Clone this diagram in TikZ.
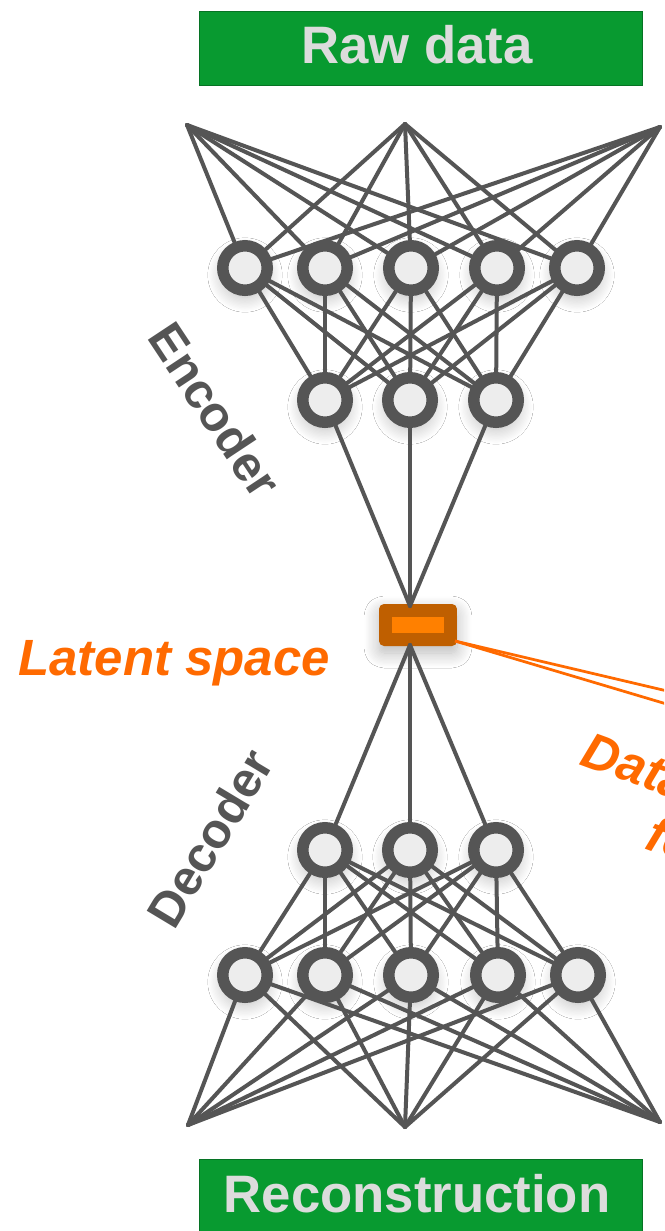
\documentclass[tikz,border=0pt]{standalone}
\usepackage{fontspec}
\setmainfont{Liberation Sans}
\usetikzlibrary{shadows.blur}

\definecolor{netgray}{HTML}{555555}
\definecolor{bannergreen}{HTML}{089A30}
\definecolor{bannertext}{HTML}{DCDCDC}
\definecolor{latentdark}{HTML}{BF5F00}
\definecolor{latentlight}{HTML}{FF8000}
\definecolor{latentorange}{HTML}{FF6A00}

\tikzset{
	softshadow/.style={blur shadow={shadow xshift=0pt, shadow yshift=-0.14cm,
			shadow blur radius=0.3cm, shadow blur steps=12, shadow opacity=28}},
	neuron/.style={circle, draw=netgray, line width=0.23cm, fill=gray!14,
		minimum size=0.89cm, inner sep=0pt, softshadow},
	link/.style={draw=netgray, line width=0.08cm, line cap=round},
	featurelink/.style={draw=latentorange, line width=0.055cm},
	banner/.style={fill=bannergreen, draw=bannergreen!75!black, line width=0.5pt},
	bannerlabel/.style={text=bannertext, anchor=base,
		font=\bfseries\fontsize{30}{36}\selectfont},
	partlabel/.style={text=netgray, font=\bfseries\fontsize{28}{34}\selectfont},
	latentlabel/.style={text=latentorange, font=\bfseries\itshape\fontsize{29}{35}\selectfont},
}

\begin{document}
\begin{tikzpicture}[x=0.02cm, y=-0.02cm]
		\useasboundingbox (0,0) rectangle (664,1231);
		\clip (0,0) rectangle (664,1231);
		\fill[white] (0,0) rectangle (664,1231);
		
		% Banners
		\fill[banner] (199,11) rectangle (642,85);
		\node[bannerlabel] (raw) at (417,63) {Raw data};
		\fill[banner] (199,1159) rectangle (642,1260);
		\node[bannerlabel] (recon) at (417,1212) {Reconstruction};
		
		% Input and output points
		\foreach \i/\x/\y in {1/187/125, 2/405/124, 3/660/127}
			\coordinate (in\i) at (\x,\y);
		\foreach \i/\x/\y in {1/188/1125, 2/405/1127, 3/660/1122}
			\coordinate (out\i) at (\x,\y);
		
		% Encoder layers
		\foreach \i/\x in {1/245, 2/325, 3/411, 4/497, 5/577}
			\node[neuron] (ea\i) at (\x,268) {};
		\foreach \i/\x in {1/325, 2/410, 3/496}
			\node[neuron] (eb\i) at (\x,400) {};
		
		% Decoder layers
		\foreach \i/\x in {1/325, 2/410, 3/496}
			\node[neuron] (da\i) at (\x,850) {};
		\foreach \i/\x in {1/245, 2/325, 3/411, 4/498, 5/578}
			\node[neuron] (db\i) at (\x,975) {};
		
		% Latent space box
		\node[fill=latentdark, rounded corners=0.1cm, minimum width=1.56cm,
			minimum height=0.84cm, inner sep=0pt, softshadow] (latent) at (418,625) {};
		\node[fill=latentlight, minimum width=1.04cm, minimum height=0.32cm,
			inner sep=0pt] (latentcore) at (418,625) {};
		\coordinate (zin) at (410,606);
		\coordinate (zout) at (410,645);
		\coordinate (zside) at (455,641);
		\coordinate (fa) at (680,694);
		\coordinate (fb) at (680,708);
		
		% Connections
		\foreach \i in {1,...,3}
			\foreach \j in {1,...,5}
				\draw[link] (in\i) -- (ea\j);
		\foreach \i in {1,...,5}
			\foreach \j in {1,...,3}
				\draw[link] (ea\i) -- (eb\j);
		\foreach \i in {1,...,3} {
			\draw[link] (eb\i) -- (zin);
			\draw[link] (zout) -- (da\i);
		}
		\foreach \i in {1,...,3}
			\foreach \j in {1,...,5}
				\draw[link] (da\i) -- (db\j);
		\foreach \i in {1,...,5}
			\foreach \j in {1,...,3}
				\draw[link] (db\i) -- (out\j);
		
		\draw[featurelink] (zside) -- (fa);
		\draw[featurelink] (zside) -- (fb);
		
		% Labels
		\node[partlabel, rotate=-56.5] (enc) at (215,410) {Encoder};
		\node[partlabel, rotate=59] (dec) at (210,838) {Decoder};
		\node[latentlabel, anchor=base] (lat) at (174,675) {Latent space};
		\node[latentlabel, anchor=base west, rotate=-20] (feat1) at (573,762) {Data};
		\node[latentlabel, anchor=base west, rotate=-20] (feat2) at (638,846) {features};
	\end{tikzpicture}
\end{document}
